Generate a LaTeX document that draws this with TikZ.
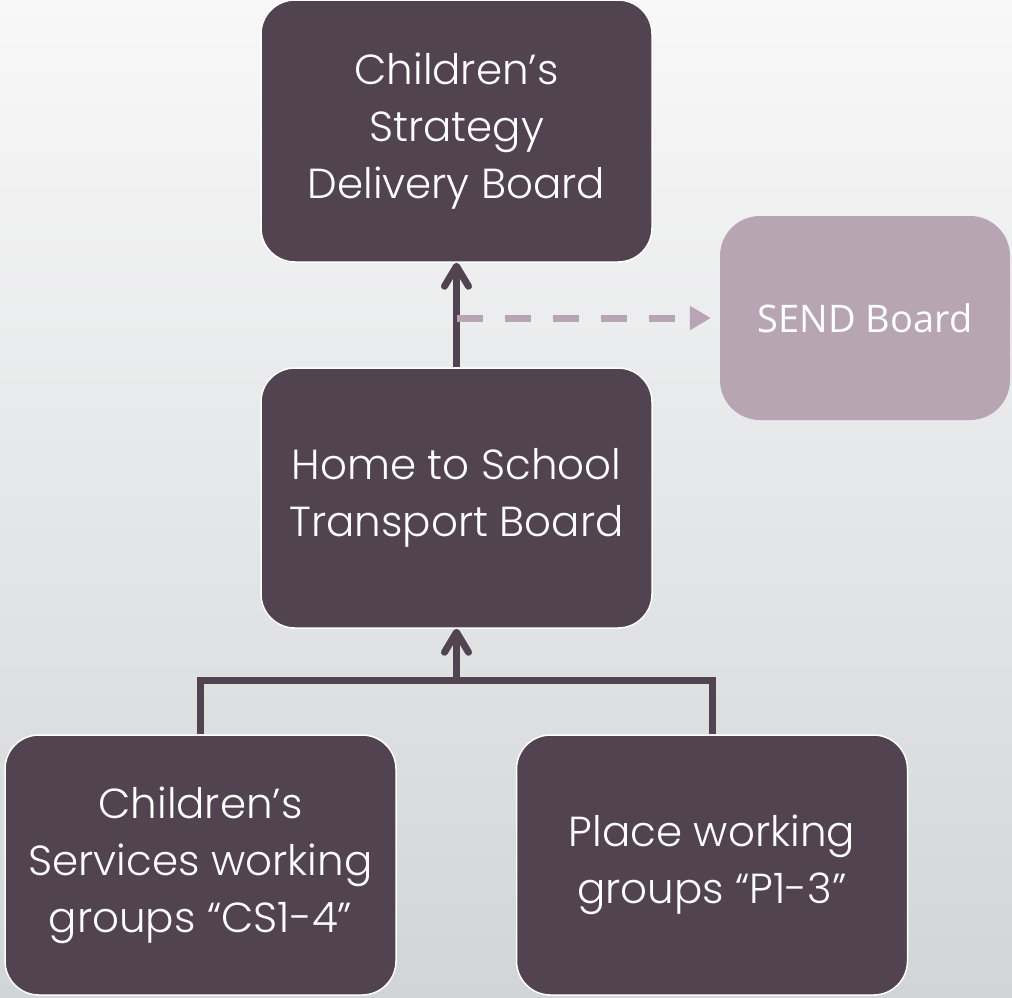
\documentclass[tikz,border=0pt]{standalone}
\usepackage{fontspec}
\setmainfont{Poppins}[UprightFont=* Light]
\newfontfamily\sendfont{Open Sans}
\usepackage{xcolor}
\usepackage{tikz}
\usetikzlibrary{arrows.meta}
\definecolor{boxdark}{RGB}{81,67,80}
\definecolor{boxlight}{RGB}{183,165,180}
\definecolor{bgtop}{RGB}{248,248,248}
\definecolor{bgmid}{RGB}{235,237,236}
\definecolor{bgbot}{RGB}{210,213,215}

\begin{document}
\begin{tikzpicture}[x=1pt,y=-1pt,
  panel/.style={rectangle, rounded corners=34pt, fill=boxdark, draw=white, line width=1.5pt,
    minimum width=391pt, minimum height=260pt, align=center, text=white,
    font=\fontsize{42}{57}\selectfont},
  sendpanel/.style={rectangle, rounded corners=40pt, fill=boxlight, draw=none,
    minimum width=290pt, minimum height=204pt, align=center, text=white,
    font=\sendfont\fontsize{38}{55}\selectfont},
  link/.style={draw=boxdark, line width=7pt},
  uparrow/.style={link, -{Straight Barb[length=20pt,width=24pt,line cap=round,line join=round]}},
  dasharrow/.style={draw=boxlight, line width=7pt, dash pattern=on 26pt off 22pt,
    -{Triangle[length=21pt,width=23pt]}, shorten >=9pt}]
\shade[top color=bgtop, middle color=bgmid, bottom color=bgbot] (0,0) rectangle (1012,997);
\useasboundingbox (0,0) rectangle (1012,997);
\node at (456.5,131) [panel, minimum height=262pt] (strategy) {Children’s\\Strategy\\Delivery Board};
\node at (456.5,498) [panel] (transport) {Home to School\\Transport Board};
\node at (865,318) [sendpanel] (send) {SEND Board};
\node at (200.5,865) [panel] (services) {Children’s\\Services working\\groups “CS1-4”};
\node at (712,865) [panel] (place) {Place working\\groups “P1-3”};
\coordinate (join) at (456.5,680);
\draw[uparrow] (transport.north) -- (strategy.south);
\draw[dasharrow] (strategy.south |- send.west) -- (send.west);
\draw[link] (services.north) |- (join) -| (place.north);
\draw[uparrow] (join) -- (transport.south);
\end{tikzpicture}
\end{document}
